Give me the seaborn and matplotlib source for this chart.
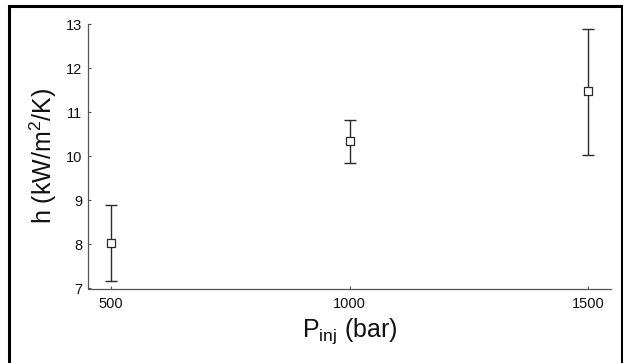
import matplotlib
matplotlib.use("Agg")
import matplotlib.pyplot as plt
import seaborn as sns
import pandas as pd
from matplotlib.patches import Rectangle

# data
pressure = [500, 1000, 1500]
h_mean = [8.04, 10.34, 11.47]
h_low = [7.18, 9.85, 10.03]
h_high = [8.89, 10.82, 12.88]
x_ticks = [500, 1000, 1500]
y_ticks = [7, 8, 9, 10, 11, 12, 13]

df = pd.DataFrame({"P": pressure, "h": h_mean, "lo": h_low, "hi": h_high})

sns.set_style("ticks")
plt.rcParams["font.family"] = ["Liberation Sans", "DejaVu Sans"]
plt.rcParams["mathtext.default"] = "regular"

fig = plt.figure(figsize=(6.23, 3.63), dpi=100)
ax = fig.add_axes([88 / 623, 1 - 288.5 / 363, (611 - 88) / 623, (288.5 - 24) / 363])

yerr = [df["h"] - df["lo"], df["hi"] - df["h"]]
ax.errorbar(df["P"], df["h"], yerr=yerr, fmt="none", ecolor="#2a2a2a",
            elinewidth=1.0, capsize=4, capthick=1.0, zorder=2)
sns.scatterplot(data=df, x="P", y="h", ax=ax, marker="s", s=26,
                facecolor="white", edgecolor="#2a2a2a", linewidth=0.9, zorder=3)

ax.set_xlim(452, 1548)
ax.set_ylim(7, 13)
ax.set_xticks(x_ticks)
ax.set_yticks(y_ticks)
ax.set_xticklabels([str(v) for v in x_ticks])
ax.set_yticklabels([str(v) for v in y_ticks])

for s in ["top", "right"]:
    ax.spines[s].set_visible(False)
for s in ["left", "bottom"]:
    ax.spines[s].set_color("#555555")
    ax.spines[s].set_linewidth(0.9)

ax.tick_params(axis="both", direction="in", length=2.5, width=0.8,
               color="#555555", labelsize=10.5, labelcolor="#111111")
ax.tick_params(axis="x", pad=6)
ax.tick_params(axis="y", pad=4)

ax.set_xlabel(r"P$_{inj}$ (bar)", fontsize=18, labelpad=4, color="#111111")
ax.set_ylabel(r"h (kW/m$^{2}$/K)", fontsize=18, labelpad=5, color="#111111")

fig.add_artist(Rectangle((8.5 / 623, -0.05), (621.5 - 8.5) / 623, 1.05 - 6.5 / 363,
                         transform=fig.transFigure, fill=False,
                         edgecolor="black", linewidth=2.2, zorder=10))

fig.savefig("out.png", dpi=100)
